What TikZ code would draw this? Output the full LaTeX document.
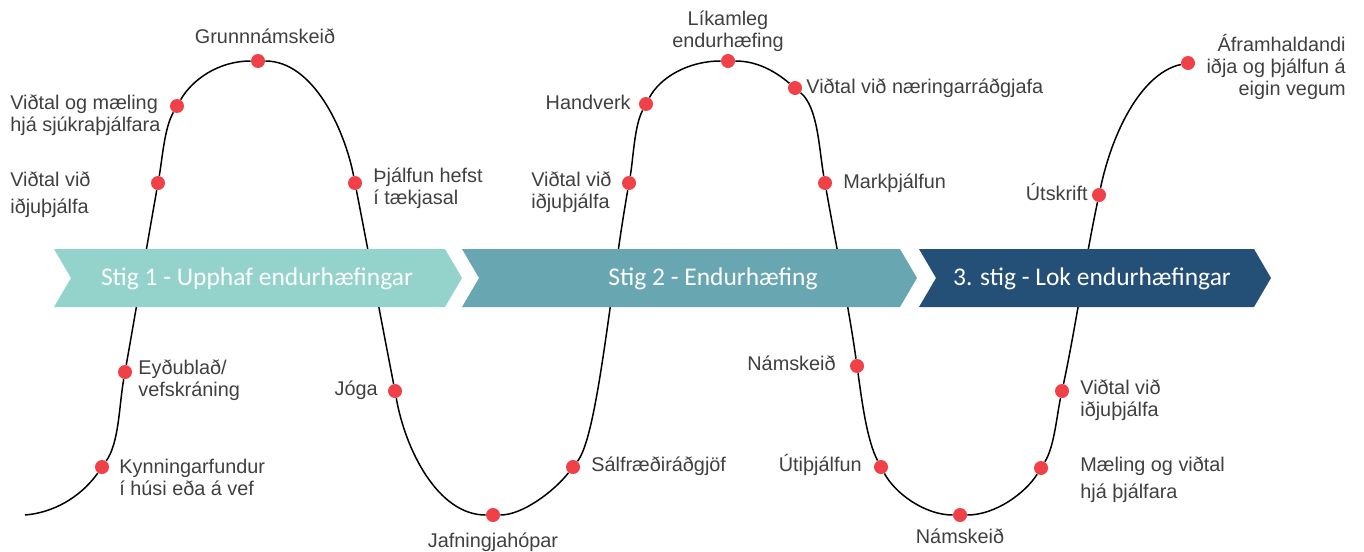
\documentclass[tikz,border=0pt]{standalone}
\usepackage{fontspec}
\setmainfont{Liberation Sans}
\newfontfamily\stagefont{Carlito}
\definecolor{stageA}{HTML}{93D3CB}
\definecolor{stageB}{HTML}{68A7B2}
\definecolor{stageC}{HTML}{244F77}
\definecolor{dotred}{HTML}{EF4147}
\definecolor{txtgray}{HTML}{404040}
\tikzset{
	dot/.style={circle, fill=dotred, inner sep=0pt, minimum size=0.28cm},
	lbl/.style={text=txtgray, inner sep=0pt, align=left, font=\fontsize{11.3}{12.6}\selectfont},
	stagetxt/.style={text=white, inner sep=0pt, font=\stagefont\fontsize{14.5}{16}\selectfont},
	wave/.style={line width=0.85pt, black},
}
\begin{document}
\begin{tikzpicture}[x=0.02cm, y=0.02cm]
	\useasboundingbox (0,0) rectangle (1364,-551);
	\coordinate (s0) at (25,-515);
	\node [dot] (kyn) at (102,-467) {};
	\node [dot] (eyd) at (125,-372) {};
	\node [dot] (vid1) at (158,-183) {};
	\node [dot] (sjuk) at (177,-106) {};
	\node [dot] (grunn) at (258,-61) {};
	\node [dot] (taeki) at (355,-183) {};
	\node [dot] (joga) at (395,-391) {};
	\node [dot] (jafn) at (493,-515) {};
	\node [dot] (salf) at (573,-467) {};
	\node [dot] (vid2) at (629,-183) {};
	\node [dot] (handv) at (646,-104) {};
	\node [dot] (likam) at (728,-61) {};
	\node [dot] (naer) at (795,-88) {};
	\node [dot] (mark) at (825,-183) {};
	\node [dot] (nam1) at (857,-366) {};
	\node [dot] (uti) at (881,-467) {};
	\node [dot] (nam2) at (960,-515) {};
	\node [dot] (mael) at (1041,-468) {};
	\node [dot] (vid3) at (1062,-391) {};
	\node [dot] (utskr) at (1099,-195) {};
	\node [dot] (afram) at (1188,-63) {};
	\draw [wave] (s0) .. controls +(5:35) and +(235:30) .. (kyn)
		.. controls +(55:30) and +(260:35) .. (eyd)
		.. controls +(80:60) and +(260:60) .. (vid1)
		.. controls +(80:25) and +(240:25) .. (sjuk)
		.. controls +(60:30) and +(180:40) .. (grunn)
		.. controls +(0:55) and +(101:55) .. (taeki)
		.. controls +(-79:70) and +(101:70) .. (joga)
		.. controls +(-80:60) and +(180:55) .. (jafn)
		.. controls +(0:30) and +(232:30) .. (salf)
		.. controls +(52:40) and +(260:110) .. (vid2)
		.. controls +(80:25) and +(242:25) .. (handv)
		.. controls +(62:30) and +(180:40) .. (likam)
		.. controls +(0:30) and +(140:25) .. (naer)
		.. controls +(-40:30) and +(100:35) .. (mark)
		.. controls +(-80:60) and +(98:60) .. (nam1)
		.. controls +(-82:35) and +(118:30) .. (uti)
		.. controls +(-62:30) and +(180:35) .. (nam2)
		.. controls +(0:35) and +(238:30) .. (mael)
		.. controls +(58:25) and +(258:25) .. (vid3)
		.. controls +(78:65) and +(258:65) .. (utskr)
		.. controls +(78:70) and +(192:45) .. (afram);
	\fill [stageA] (54,-249) -- (445,-249) -- (462,-278) -- (445,-307) -- (54,-307) -- (71,-278) -- cycle;
	\fill [stageB] (462,-249) -- (900,-249) -- (917,-278) -- (900,-307) -- (462,-307) -- (479,-278) -- cycle;
	\fill [stageC] (919,-249) -- (1254,-249) -- (1271,-278) -- (1254,-307) -- (919,-307) -- (936,-278) -- cycle;
	\node [stagetxt] (st1) at (257,-279) {Stig 1 - Upphaf endurhæfingar};
	\node [stagetxt] (st2) at (713,-279) {Stig 2 - Endurhæfing};
	\node [stagetxt] (st3) at (1092,-279) {3. stig - Lok endurhæfingar};
	\node [lbl, anchor=base] (grunnl) at (265,-43) {Grunnnámskeið};
	\node [lbl, anchor=west] (sjukl) at (10,-115) {Viðtal og mæling\\hjá sjúkraþjálfara};
	\node [lbl, anchor=west] (vid1l) at (10,-195) {Viðtal við\\[3pt]iðjuþjálfa};
	\node [lbl, anchor=west] (taekil) at (373,-188) {Þjálfun hefst\\í tækjasal};
	\node [lbl, anchor=center, align=center] (likaml) at (728,-31) {Líkamleg\\endurhæfing};
	\node [lbl, anchor=base east] (handvl) at (631,-109) {Handverk};
	\node [lbl, anchor=base west] (naerl) at (806,-93) {Viðtal við næringarráðgjafa};
	\node [lbl, anchor=west] (vid2l) at (531,-192) {Viðtal við\\iðjuþjálfa};
	\node [lbl, anchor=base west] (markl) at (843,-188) {Markþjálfun};
	\node [lbl, anchor=base east] (utskrl) at (1088,-200) {Útskrift};
	\node [lbl, anchor=east, align=right] (aframl) at (1346,-67) {Áframhaldandi\\iðja og þjálfun á\\eigin vegum};
	\node [lbl, anchor=west] (eydl) at (138,-380) {Eyðublað/\\vefskráning};
	\node [lbl, anchor=base east] (jogal) at (378,-395) {Jóga};
	\node [lbl, anchor=base east] (nam1l) at (836,-370) {Námskeið};
	\node [lbl, anchor=west] (vid3l) at (1080,-400) {Viðtal við\\iðjuþjálfa};
	\node [lbl, anchor=west] (kynl) at (119,-477) {Kynningarfundur\\í húsi eða á vef};
	\node [lbl, anchor=base west] (salfl) at (591,-471) {Sálfræðiráðgjöf};
	\node [lbl, anchor=base east] (util) at (862,-471) {Útiþjálfun};
	\node [lbl, anchor=west] (maell) at (1080,-480) {Mæling og viðtal\\[3pt]hjá þjálfara};
	\node [lbl, anchor=base] (jafnl) at (493,-547) {Jafningjahópar};
	\node [lbl, anchor=base] (nam2l) at (960,-543) {Námskeið};
\end{tikzpicture}
\end{document}
